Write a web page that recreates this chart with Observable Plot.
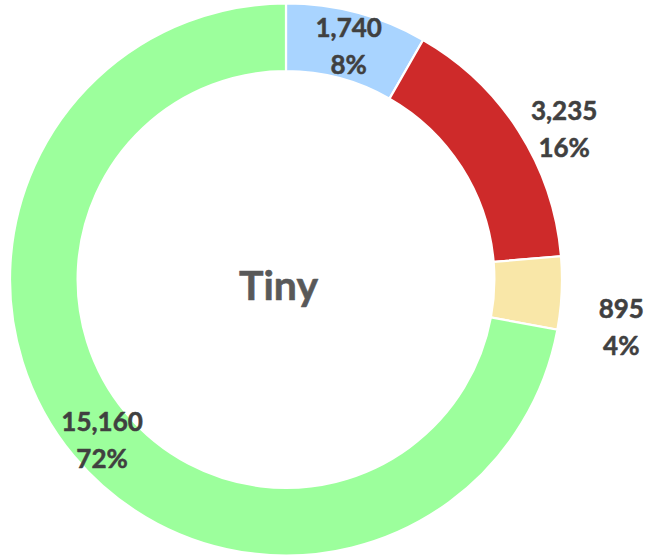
<!DOCTYPE html>
<html>
<head>
<meta charset="utf-8">
<script src="https://cdn.jsdelivr.net/npm/d3@7"></script>
<script src="https://cdn.jsdelivr.net/npm/@observablehq/plot@0.6"></script>
<style>
  html, body { margin: 0; padding: 0; background: #ffffff; }
  #chart { width: 648px; height: 557px; }
</style>
</head>
<body>
<div id="chart"></div>
<script>
// ---- Data ----
const categories = ["Slice 1", "Slice 2", "Slice 3", "Slice 4"];
const values = [1740, 3235, 895, 15160];
const valueLabels = ["1,740", "3,235", "895", "15,160"];
const percentLabels = ["8%", "16%", "4%", "72%"];
const centerTitle = "Tiny";

// ---- Styling / layout (not data) ----
const sliceColors = ["#a9d4ff", "#ce2a2a", "#f9e7a8", "#9cff9c"];
const innerRatio = 0.755;
// label placement: radius (in outer-radius units) and angle nudge (degrees)
const labelLayout = [
  { r: 0.877, da: 0 },
  { r: 1.145, da: 4 },
  { r: 1.225, da: 5.2 },
  { r: 0.885, da: -1.2 }
];

const W = 648, H = 557, CX = 286, CY = 279.5, R = 276;

const color = d3.scaleOrdinal(categories, sliceColors);
const table = categories.map((c, i) => ({ category: c, value: values[i] }));
const arcs = d3.pie().sort(null).value(d => d.value)(table);

const labels = arcs.map((a, i) => {
  const mid = (a.startAngle + a.endAngle) / 2 + labelLayout[i].da * Math.PI / 180;
  const r = labelLayout[i].r;
  return {
    x: r * Math.sin(mid),
    y: r * Math.cos(mid),
    text: valueLabels[i] + "\n" + percentLabels[i]
  };
});

function donut(index, scales) {
  const cx = scales.x(0), cy = scales.y(0);
  const outer = scales.x(1) - scales.x(0);
  const arc = d3.arc().innerRadius(outer * innerRatio).outerRadius(outer);
  const g = d3.create("svg:g").attr("transform", `translate(${cx},${cy})`);
  g.selectAll("path")
    .data(arcs)
    .join("path")
    .attr("d", arc)
    .attr("fill", d => color(d.data.category))
    .attr("stroke", "#ffffff")
    .attr("stroke-width", 2.2)
    .attr("stroke-linejoin", "miter");
  return g.node();
}

const chart = Plot.plot({
  width: W,
  height: H,
  margin: 0,
  style: { fontFamily: "Lato, 'Open Sans', sans-serif", background: "#ffffff" },
  x: { domain: [-CX / R, (W - CX) / R], axis: null },
  y: { domain: [-(H - CY) / R, CY / R], axis: null },
  marks: [
    donut,
    Plot.text(labels, {
      x: "x", y: "y", text: "text", dy: -2.5,
      fontSize: 26, fontWeight: "bold", fill: "#404040",
      stroke: "#404040", strokeWidth: 0.5,
      lineHeight: 1.42, fontFamily: "Lato"
    }),
    Plot.text([centerTitle], {
      x: [-0.029], y: [-0.024], text: d => d,
      fontSize: 41, fontWeight: "bold", fill: "#595959",
      stroke: "#595959", strokeWidth: 0.6, fontFamily: "Lato"
    })
  ]
});

document.getElementById("chart").appendChild(chart);
</script>
</body>
</html>
